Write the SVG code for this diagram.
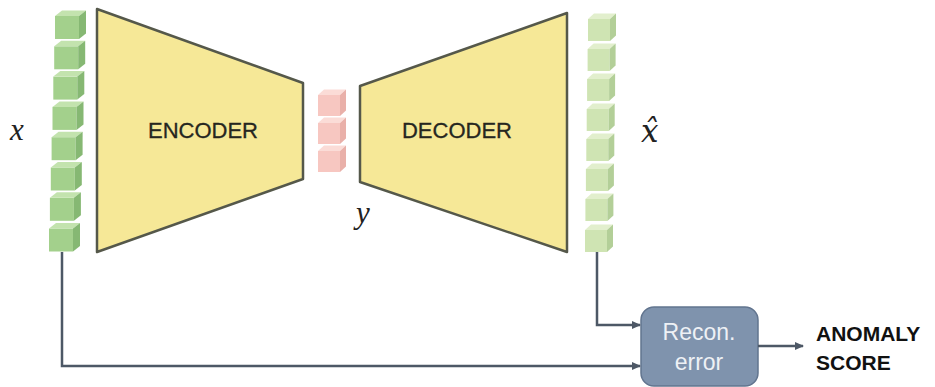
<svg xmlns="http://www.w3.org/2000/svg" width="935" height="387" viewBox="0 0 935 387">
<style>
.trap{fill:#f6e897;stroke:#55584a;stroke-width:2.5;stroke-linejoin:round}
.lbl{font-family:"Liberation Sans",Arial,sans-serif;font-size:22px;fill:#26261f;text-anchor:middle;stroke:#26261f;stroke-width:0.3}
.math{font-family:"Liberation Serif","DejaVu Serif",serif;font-style:italic;font-size:31px;fill:#222}
.conn{fill:none;stroke:#4d5866;stroke-width:2.5}
.gf{fill:#a3d08c}.gt{fill:#c3e3ae}.gs{fill:#86b873}
.lf{fill:#cfe4b3}.lt{fill:#e2efcd}.ls{fill:#b3cf98}
.pf{fill:#f7c7c1}.pt{fill:#fbdcd7}.ps{fill:#e9b0a9}
.box{fill:#7f93ad;stroke:#62758f;stroke-width:1.5}
.boxt{font-family:"Liberation Sans",Arial,sans-serif;font-size:23px;fill:#eef1f5;text-anchor:middle}
.score{font-family:"Liberation Sans",Arial,sans-serif;font-size:21px;font-weight:bold;fill:#111}
</style>
<defs>
<g id="cubeG">
<rect class="gf" x="0" y="0" width="24" height="23"/>
<polygon class="gt" points="0,0 7,-5.5 31,-5.5 24,0"/>
<polygon class="gs" points="24,0 31,-5.5 31,17.5 24,23"/>
</g>
<g id="cubeL">
<rect class="lf" x="0" y="0" width="22" height="22"/>
<polygon class="lt" points="0,0 6,-5.5 28,-5.5 22,0"/>
<polygon class="ls" points="22,0 28,-5.5 28,16.5 22,22"/>
</g>
<g id="cubeP">
<rect class="pf" x="0" y="0" width="22" height="21"/>
<polygon class="pt" points="0,0 6,-5.5 28,-5.5 22,0"/>
<polygon class="ps" points="22,0 28,-5.5 28,15.5 22,21"/>
</g>
<marker id="arr" markerWidth="10" markerHeight="10" refX="8" refY="5" orient="auto" markerUnits="userSpaceOnUse">
<path d="M0,1 L9,5 L0,9 Z" fill="#4d5866"/>
</marker>
</defs>

<g id="input-x">
<use href="#cubeG" x="55" y="16"/>
<use href="#cubeG" x="54.2" y="46.3"/>
<use href="#cubeG" x="53.3" y="76.6"/>
<use href="#cubeG" x="52.5" y="106.9"/>
<use href="#cubeG" x="51.6" y="137.2"/>
<use href="#cubeG" x="50.8" y="167.5"/>
<use href="#cubeG" x="49.9" y="197.8"/>
<use href="#cubeG" x="49" y="228.5"/>
<text class="math" x="10" y="140">x</text>
</g>

<g id="encoder">
<polygon class="trap" points="97,9 303,83 303,179 97,252"/>
<text class="lbl" x="203" y="138">ENCODER</text>
</g>

<g id="latent-y">
<use href="#cubeP" x="318" y="95"/>
<use href="#cubeP" x="318" y="123"/>
<use href="#cubeP" x="318" y="151"/>
<text class="math" x="356" y="223">y</text>
</g>

<g id="decoder">
<polygon class="trap" points="360,86 567,13 567,252 360,182"/>
<text class="lbl" x="457" y="138">DECODER</text>
</g>

<g id="output-xhat">
<use href="#cubeL" x="588" y="19"/>
<use href="#cubeL" x="587.6" y="49"/>
<use href="#cubeL" x="587.1" y="79"/>
<use href="#cubeL" x="586.7" y="109"/>
<use href="#cubeL" x="586.3" y="139"/>
<use href="#cubeL" x="585.9" y="169"/>
<use href="#cubeL" x="585.4" y="199"/>
<use href="#cubeL" x="585" y="230"/>
<text class="math" x="641" y="142" style="font-family:'DejaVu Serif',serif">x̂</text>
</g>

<g id="recon-error">
<rect class="box" x="641" y="307" width="117" height="79" rx="13"/>
<text class="boxt" x="699" y="340">Recon.</text>
<text class="boxt" x="699" y="370">error</text>
</g>

<g id="anomaly-score">
<text class="score" x="816" y="341">ANOMALY</text>
<text class="score" x="816" y="370">SCORE</text>
</g>

<g id="connectors">
<polyline class="conn" points="62,252 62,366 640,366" marker-end="url(#arr)"/>
<polyline class="conn" points="597,252 597,325 640,325" marker-end="url(#arr)"/>
<line class="conn" x1="758" y1="346" x2="803" y2="346" marker-end="url(#arr)"/>
</g>
</svg>
